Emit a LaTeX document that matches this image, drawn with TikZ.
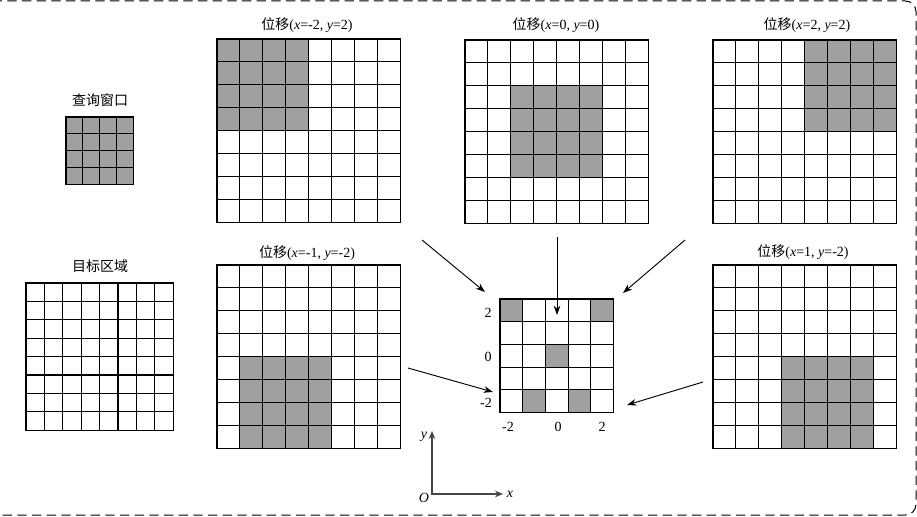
\documentclass[tikz,border=0pt]{standalone}
\usepackage{fontspec}
\setmainfont{Liberation Serif}
\newfontfamily\cjk{Noto Sans CJK SC}
\usetikzlibrary{arrows.meta}
\definecolor{cellgray}{RGB}{160,160,160}
\definecolor{axisgray}{RGB}{70,70,70}
\tikzset{
  cell line/.style={line width=0.8pt,line cap=rect},
  shift arrow/.style={-{Stealth[length=7pt,width=5pt]},line width=0.7pt},
  axis line/.style={{Stealth[length=6pt,width=5pt]}-{Stealth[length=6pt,width=5pt]},line width=1pt,draw=axisgray},
  caption/.style={font=\fontsize{10.5}{12}\selectfont,inner sep=1pt},
  tick/.style={font=\fontsize{10.5}{12}\selectfont,inner sep=1pt},
}
% name, left, top, cells, cell size, shaded part
\newcommand{\cellgrid}[6]{%
  \begin{scope}[shift={(#2,#3)},scale=#5]
    \fill[cellgray] #6;
    \foreach \idx in {0,...,#4}{
      \draw[cell line] (\idx,0) -- (\idx,#4);
      \draw[cell line] (0,\idx) -- (#4,\idx);
    }
    \coordinate (#1-nw) at (0,0);
    \coordinate (#1-se) at (#4,#4);
  \end{scope}}
\begin{document}
\begin{tikzpicture}[x=0.75pt,y=-0.75pt]
  \useasboundingbox (0,0) rectangle (917,517);
  \draw[dashed,dash pattern=on 7pt off 4pt,line width=0.75pt,rounded corners=8pt]
    (-12,1) rectangle (916,515);

  % query window and target region
  \node[caption] (query) at (100,100) {\cjk 查询窗口};
  \cellgrid{qw}{66}{117}{4}{16.8}{(0,0) rectangle (4,4)}
  \node[caption] (target) at (100,266) {\cjk 目标区域};
  \cellgrid{tr}{26}{283}{8}{18.4}{}

  % shifted windows
  \node[caption] (capA) at (307,25) {{\cjk 位移}(\textit{x}=-2, \textit{y}=2)};
  \cellgrid{shA}{217}{39}{8}{22.9}{(0,0) rectangle (4,4)}
  \node[caption] (capB) at (556,25) {{\cjk 位移}(\textit{x}=0, \textit{y}=0)};
  \cellgrid{shB}{465}{40}{8}{22.9}{(2,2) rectangle (6,6)}
  \node[caption] (capC) at (807,25) {{\cjk 位移}(\textit{x}=2, \textit{y}=2)};
  \cellgrid{shC}{713}{40}{8}{22.9}{(4,0) rectangle (8,4)}
  \node[caption] (capD) at (307,253) {{\cjk 位移}(\textit{x}=-1, \textit{y}=-2)};
  \cellgrid{shD}{217}{265}{8}{22.9}{(1,4) rectangle (5,8)}
  \node[caption] (capE) at (803,252) {{\cjk 位移}(\textit{x}=1, \textit{y}=-2)};
  \cellgrid{shE}{713}{265}{8}{22.9}{(3,4) rectangle (7,8)}

  % offsets
  \cellgrid{off}{500}{299}{5}{22.7}{(0,0) rectangle (1,1) (4,0) rectangle (5,1)
    (2,2) rectangle (3,3) (1,4) rectangle (2,5) (3,4) rectangle (4,5)}
  \node[tick] (ty2) at (488,313) {2};
  \node[tick] (ty0) at (488,357) {0};
  \node[tick] (tym) at (486,403) {-2};
  \node[tick] (txm) at (508,427) {-2};
  \node[tick] (tx0) at (558,427) {0};
  \node[tick] (tx2) at (602,427) {2};

  \coordinate (fromA) at (422,240);  \coordinate (toA) at (485,292);
  \coordinate (fromB) at (557,237);  \coordinate (toB) at (557,315);
  \coordinate (fromC) at (685,240);  \coordinate (toC) at (623,293);
  \coordinate (fromD) at (408,368);  \coordinate (toD) at (493,392);
  \coordinate (fromE) at (703,382);  \coordinate (toE) at (627,405);
  \begin{scope}[shift arrow]
    \draw (fromA) -- (toA);
    \draw (fromB) -- (toB);
    \draw (fromC) -- (toC);
    \draw (fromD) -- (toD);
    \draw (fromE) -- (toE);
  \end{scope}

  % axes
  \coordinate (O) at (432,494);
  \coordinate (yend) at (432,431);
  \coordinate (xend) at (503,494);
  \draw[axis line] (yend) -- (O) -- (xend);
  \node[tick] (ylab) at (424,437) {\textit{y}};
  \node[tick] (olab) at (424,498) {\textit{O}};
  \node[tick] (xlab) at (510,494) {\textit{x}};
\end{tikzpicture}
\end{document}
